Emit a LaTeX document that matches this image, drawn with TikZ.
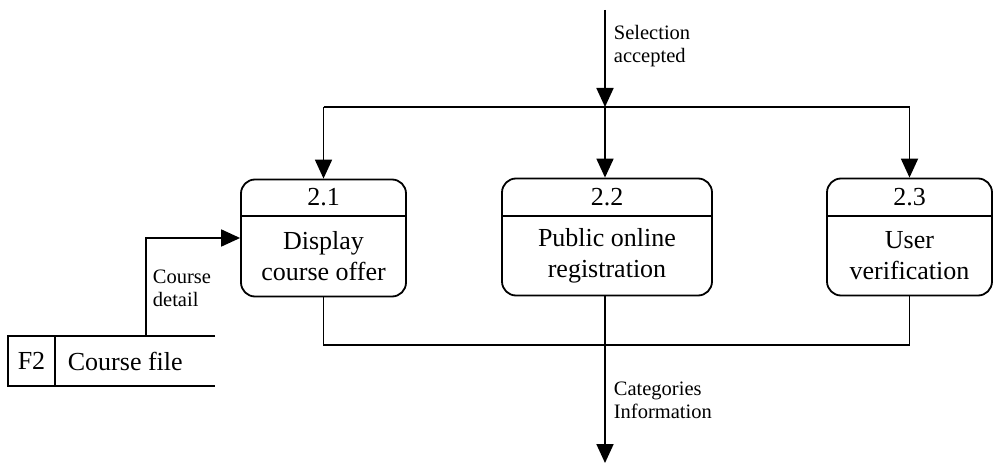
\documentclass[tikz,border=0pt]{standalone}
\usepackage{fontspec}
\setmainfont{Liberation Serif}
\usetikzlibrary{arrows.meta}
\begin{document}
\begin{tikzpicture}[x=1pt,y=-1pt,
  line width=1.8pt,
  procbox/.style={draw,rounded corners=14pt,minimum width=#1,minimum height=117pt,inner sep=0pt},
  bigtxt/.style={font=\fontsize{26}{31}\selectfont,align=center,inner sep=0pt},
  smalltxt/.style={font=\fontsize{20.5}{23}\selectfont,align=left,inner sep=0pt,anchor=west},
  arr/.style={-{Triangle[length=19pt,width=17pt]}}]
\useasboundingbox (0,0) rectangle (993,465);

% process boxes
\node[procbox=165pt] (p1) at (323.5,238) {};
\node[procbox=210pt] (p2) at (607,237) {};
\node[procbox=165pt] (p3) at (909.5,237) {};
\foreach \b in {p1,p2,p3}{
  \draw (\b.west |- 0,216) -- (\b.east |- 0,216);
}
\node[bigtxt] (h1) at (323.5,197) {2.1};
\node[bigtxt] (h2) at (607,197) {2.2};
\node[bigtxt] (h3) at (909.5,197) {2.3};
\node[bigtxt] (t1) at (323.5,256) {Display\\course offer};
\node[bigtxt] (t2) at (607,256) {Public online\\registration};
\node[bigtxt] (t3) at (909.5,256) {User\\verification};

% top flows
\coordinate (in) at (605,10);
\coordinate (jc) at (605,107);
\coordinate (jl) at (323.5,107);
\coordinate (jr) at (909.5,107);
\draw[arr] (in) -- (jc);
\draw (jl) -- (jr);
\draw[arr] (jl) -- (p1.north);
\draw[arr] (jc) -- (jc |- p2.north);
\draw[arr] (jr) -- (p3.north);
\node[smalltxt] (lsel) at (613,46) {Selection\\accepted};

% bottom flows
\coordinate (bl) at (323.5,345);
\coordinate (br) at (909.5,345);
\coordinate (out) at (605,463);
\draw (p1.south) -- (bl) -- (br) -- (p3.south);
\draw[arr] (p2.south -| out) -- (out);
\node[smalltxt] (lcat) at (613,400) {Categories\\Information};

% data store
\coordinate (s1) at (8,336);
\coordinate (s2) at (215,336);
\coordinate (s3) at (8,386);
\coordinate (s4) at (215,386);
\coordinate (sd) at (55,336);
\coordinate (sdb) at (55,386);
\draw (s2) -- (s1) -- (s3) -- (s4);
\draw (sd) -- (sdb);
\node[bigtxt] (f2) at (31.5,361) {F2};
\node[bigtxt,anchor=west] (cf) at (67,361) {Course file};
\coordinate (cdf) at (146,336);
\draw[arr] (cdf) |- (p1.west);
\node[smalltxt] (lcd) at (152,288) {Course\\detail};
\end{tikzpicture}
\end{document}
